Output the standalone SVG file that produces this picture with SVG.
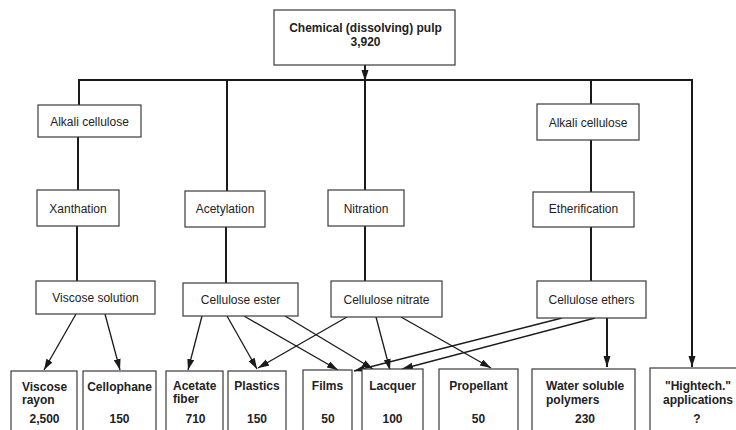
<svg xmlns="http://www.w3.org/2000/svg" width="736" height="430" viewBox="0 0 736 430">
<defs>
<style>
.box{fill:#fff;stroke:#3a3a3a;stroke-width:1.2}
.t{font-family:"Liberation Sans",Arial,sans-serif;font-size:12px;fill:#222;text-anchor:middle}
.b{font-weight:bold}
.s{text-anchor:start}
.trunk{stroke:#1a1a1a;stroke-width:2;fill:none}
.diag{stroke:#1a1a1a;stroke-width:1.3;fill:none}
</style>
<marker id="ah" markerUnits="userSpaceOnUse" markerWidth="12" markerHeight="8" refX="11" refY="3.5" orient="auto">
<path d="M0,0 L11,3.5 L0,7 z" fill="#1a1a1a"/>
</marker>
</defs>
<rect width="736" height="430" fill="#fff"/>

<g id="connectors">
<line class="trunk" x1="365" y1="65" x2="365" y2="81" marker-end="url(#ah)"/>
<line class="trunk" x1="365" y1="80" x2="365" y2="190"/>
<line class="trunk" x1="78" y1="80" x2="693" y2="80"/>
<line class="trunk" x1="79" y1="80" x2="79" y2="105"/>
<line class="trunk" x1="78" y1="137" x2="78" y2="190"/>
<line class="trunk" x1="77" y1="226" x2="77" y2="281"/>
<line class="trunk" x1="227" y1="80" x2="227" y2="191"/>
<line class="trunk" x1="226" y1="227" x2="226" y2="283"/>
<line class="trunk" x1="365" y1="226" x2="365" y2="281"/>
<line class="trunk" x1="591" y1="80" x2="591" y2="104"/>
<line class="trunk" x1="591" y1="140" x2="591" y2="192"/>
<line class="trunk" x1="591" y1="227" x2="591" y2="281"/>
<line class="trunk" x1="692" y1="80" x2="692" y2="367" marker-end="url(#ah)"/>
<line class="trunk" x1="607" y1="318" x2="607" y2="367" marker-end="url(#ah)"/>
<line class="diag" x1="76" y1="314" x2="44" y2="370" marker-end="url(#ah)"/>
<line class="diag" x1="105" y1="314" x2="120" y2="370" marker-end="url(#ah)"/>
<line class="diag" x1="202" y1="316" x2="188" y2="370" marker-end="url(#ah)"/>
<line class="diag" x1="227" y1="316" x2="257" y2="369" marker-end="url(#ah)"/>
<line class="diag" x1="244" y1="316" x2="338" y2="370" marker-end="url(#ah)"/>
<line class="diag" x1="285" y1="316" x2="373" y2="369" marker-end="url(#ah)"/>
<line class="diag" x1="347" y1="317" x2="258" y2="368" marker-end="url(#ah)"/>
<line class="diag" x1="376" y1="317" x2="390" y2="370" marker-end="url(#ah)"/>
<line class="diag" x1="401" y1="317" x2="491" y2="368" marker-end="url(#ah)"/>
<line class="diag" x1="562" y1="318" x2="354" y2="371" marker-end="url(#ah)"/>
<line class="diag" x1="595" y1="318" x2="402" y2="369" marker-end="url(#ah)"/>
</g>

<g id="pulp">
<rect class="box" x="274" y="10" width="181" height="55"/>
<text class="t b" x="365.5" y="32">Chemical (dissolving) pulp</text>
<text class="t b" x="365.5" y="46">3,920</text>
</g>

<g id="alkali-left"><rect class="box" x="38" y="105" width="103" height="32"/><text class="t" x="89.5" y="125.5">Alkali cellulose</text></g>
<g id="xanthation"><rect class="box" x="37" y="190" width="82" height="36"/><text class="t" x="78" y="212.5">Xanthation</text></g>
<g id="acetylation"><rect class="box" x="185" y="191" width="80" height="36"/><text class="t" x="225" y="213">Acetylation</text></g>
<g id="nitration"><rect class="box" x="328" y="190" width="76" height="36"/><text class="t" x="366" y="212.5">Nitration</text></g>
<g id="alkali-right"><rect class="box" x="537" y="104" width="102" height="36"/><text class="t" x="588" y="126.5">Alkali cellulose</text></g>
<g id="etherification"><rect class="box" x="533" y="192" width="101" height="35"/><text class="t" x="583.5" y="213">Etherification</text></g>

<g id="viscose-solution"><rect class="box" x="36" y="281" width="119" height="33"/><text class="t" x="95.5" y="302">Viscose solution</text></g>
<g id="cellulose-ester"><rect class="box" x="183" y="283" width="115" height="33"/><text class="t" x="240.5" y="304">Cellulose ester</text></g>
<g id="cellulose-nitrate"><rect class="box" x="331" y="281" width="111" height="36"/><text class="t" x="386.5" y="303.5">Cellulose nitrate</text></g>
<g id="cellulose-ethers"><rect class="box" x="537" y="281" width="109" height="37"/><text class="t" x="591.5" y="303.5">Cellulose ethers</text></g>

<g id="viscose-rayon"><rect class="box" x="11" y="371" width="66" height="70"/>
<text class="t b s" x="22" y="391">Viscose</text><text class="t b s" x="22" y="404">rayon</text><text class="t b" x="44.5" y="422.5">2,500</text></g>
<g id="cellophane"><rect class="box" x="83" y="371" width="73" height="70"/>
<text class="t b" x="119.5" y="391">Cellophane</text><text class="t b" x="119.5" y="422.5">150</text></g>
<g id="acetate-fiber"><rect class="box" x="166" y="371" width="57" height="70"/>
<text class="t b s" x="173" y="389.5">Acetate</text><text class="t b s" x="173" y="402.5">fiber</text><text class="t b" x="195.5" y="422.5">710</text></g>
<g id="plastics"><rect class="box" x="228" y="371" width="58" height="70"/>
<text class="t b" x="257" y="390">Plastics</text><text class="t b" x="257" y="422.5">150</text></g>
<g id="films"><rect class="box" x="303" y="370" width="49" height="70"/>
<text class="t b" x="327.5" y="390">Films</text><text class="t b" x="328" y="422.5">50</text></g>
<g id="lacquer"><rect class="box" x="362" y="369" width="61" height="70"/>
<text class="t b" x="392.5" y="390">Lacquer</text><text class="t b" x="392.5" y="422.5">100</text></g>
<g id="propellant"><rect class="box" x="439" y="369" width="79" height="70"/>
<text class="t b" x="478.5" y="390">Propellant</text><text class="t b" x="478.5" y="422.5">50</text></g>
<g id="water-soluble"><rect class="box" x="532" y="369" width="103" height="70"/>
<text class="t b s" x="546" y="390">Water soluble</text><text class="t b s" x="546" y="404">polymers</text><text class="t b" x="585" y="422.5">230</text></g>
<g id="hightech"><rect class="box" x="650" y="368" width="100" height="70"/>
<text class="t b" x="698" y="390">"Hightech."</text><text class="t b" x="698" y="404">applications</text><text class="t b" x="697" y="422.5">?</text></g>
</svg>
